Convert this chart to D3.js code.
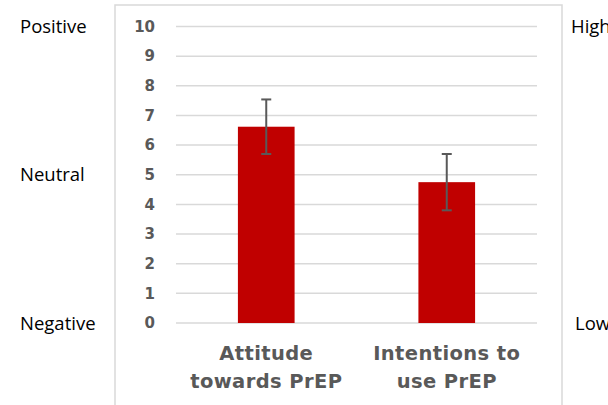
<!DOCTYPE html>
<html>
<head>
<meta charset="utf-8">
<script src="https://cdn.jsdelivr.net/npm/d3@7"></script>
<style>
  body { margin: 0; background: #fff; }
</style>
</head>
<body>
<div id="chart"></div>
<script>
// Data
const categories = [["Attitude", "towards PrEP"], ["Intentions to", "use PrEP"]];
const means = [6.62, 4.75];
const errors = [0.92, 0.95];
const yTicks = [0, 1, 2, 3, 4, 5, 6, 7, 8, 9, 10];
const leftLabels = [{ v: 10, t: "Positive" }, { v: 5, t: "Neutral" }, { v: 0, t: "Negative" }];
const rightLabels = [{ v: 10, t: "High", dx: 0 }, { v: 0, t: "Low", dx: 4 }];

const W = 608, H = 405;
const svg = d3.select("#chart").append("svg")
    .attr("width", W)
    .attr("height", H);

// Chart frame
const frame = { left: 115, right: 562, top: 5 };
svg.append("path")
    .attr("d", `M${frame.left},${H + 2}V${frame.top}H${frame.right}V${H + 2}`)
    .attr("fill", "none")
    .attr("stroke", "#d9d9d9")
    .attr("stroke-width", 1.5);

// Scales
const y = d3.scaleLinear().domain([0, 10]).range([323, 26.5]);
const x = d3.scaleBand()
    .domain(categories.map(d => d.join(" ")))
    .range([176, 537])
    .paddingInner(0.686)
    .paddingOuter(0.343);

// Gridlines
svg.append("g")
    .selectAll("line")
    .data(yTicks)
    .join("line")
    .attr("x1", 176)
    .attr("x2", 537)
    .attr("y1", d => y(d))
    .attr("y2", d => y(d))
    .attr("stroke", "#d9d9d9")
    .attr("stroke-width", 1.5);

// Y axis labels
const yAxis = svg.append("g")
    .attr("transform", "translate(155,0)")
    .call(d3.axisLeft(y).tickValues(yTicks).tickSize(0).tickPadding(0));
yAxis.select(".domain").remove();
yAxis.selectAll("text")
    .attr("fill", "#595959")
    .style("font-family", "'DejaVu Sans', sans-serif")
    .style("font-weight", "bold")
    .style("font-size", "15px");

// Bars
const data = categories.map((c, i) => ({ key: c.join(" "), lines: c, mean: means[i], err: errors[i] }));
svg.append("g")
    .selectAll("rect")
    .data(data)
    .join("rect")
    .attr("x", d => x(d.key))
    .attr("width", x.bandwidth())
    .attr("y", d => y(d.mean))
    .attr("height", d => y(0) - y(d.mean))
    .attr("fill", "#c00000");

// Error bars
const eb = svg.append("g")
    .attr("stroke", "#595959")
    .attr("stroke-width", 2)
    .selectAll("g")
    .data(data)
    .join("g")
    .attr("transform", d => `translate(${x(d.key) + x.bandwidth() / 2},0)`);
eb.append("line")
    .attr("y1", d => y(d.mean + d.err))
    .attr("y2", d => y(d.mean - d.err));
eb.append("line")
    .attr("x1", -5).attr("x2", 5)
    .attr("y1", d => y(d.mean + d.err))
    .attr("y2", d => y(d.mean + d.err));
eb.append("line")
    .attr("x1", -5).attr("x2", 5)
    .attr("y1", d => y(d.mean - d.err))
    .attr("y2", d => y(d.mean - d.err));

// Category labels
const catText = svg.append("g")
    .selectAll("text")
    .data(data)
    .join("text")
    .attr("text-anchor", "middle")
    .attr("fill", "#595959")
    .style("font-family", "'DejaVu Sans', sans-serif")
    .style("font-weight", "bold")
    .style("font-size", "19.5px")
    .style("letter-spacing", "0.4px");
catText.selectAll("tspan")
    .data(d => d.lines.map(l => ({ l, cx: x(d.key) + x.bandwidth() / 2 })))
    .join("tspan")
    .attr("x", d => d.cx)
    .attr("y", (d, i) => 360 + i * 28)
    .text(d => d.l);

// Side labels
svg.append("g")
    .selectAll("text")
    .data(leftLabels)
    .join("text")
    .attr("x", 20)
    .attr("y", d => y(d.v))
    .attr("dy", "0.36em")
    .style("font-family", "'Open Sans', sans-serif")
    .style("font-size", "18.5px")
    .text(d => d.t);

svg.append("g")
    .selectAll("text")
    .data(rightLabels)
    .join("text")
    .attr("x", d => 571 + d.dx)
    .attr("y", d => y(d.v))
    .attr("dy", "0.36em")
    .style("font-family", "'Open Sans', sans-serif")
    .style("font-size", "18.5px")
    .text(d => d.t);
</script>
</body>
</html>
